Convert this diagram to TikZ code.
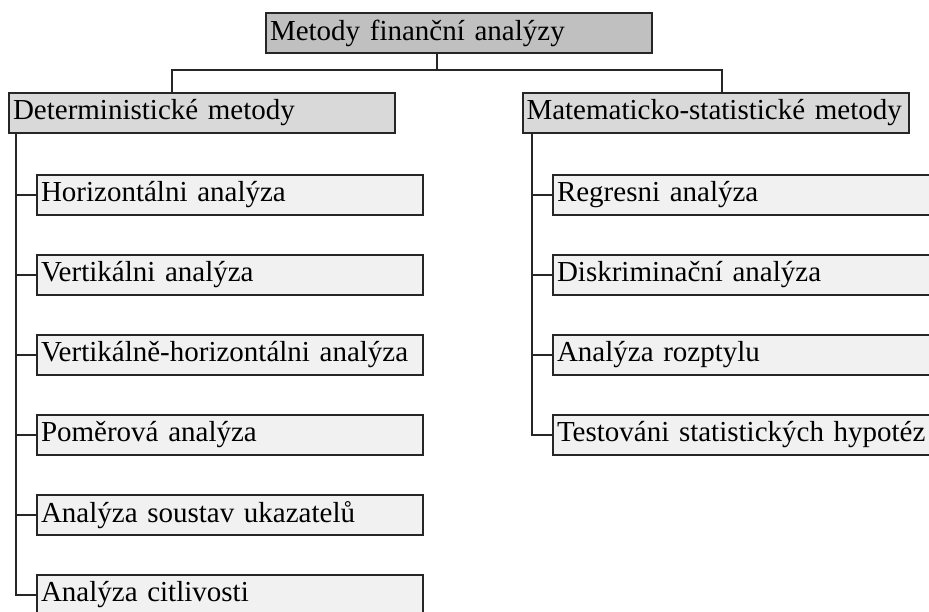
\documentclass[tikz,border=0pt]{standalone}
\usepackage{fontspec}
\setmainfont{Liberation Serif}
\usetikzlibrary{positioning}
\definecolor{rootgray}{RGB}{192,192,192}
\definecolor{groupgray}{RGB}{217,217,217}
\definecolor{leafgray}{RGB}{241,241,241}
\begin{document}
\begin{tikzpicture}[
            x=1pt,y=1pt,
            node distance=80pt,on grid,
            box/.style={rectangle,draw=black!85,line width=2pt,minimum height=40pt,text width=378pt,inner xsep=4pt,inner ysep=0pt,align=left,font=\fontsize{29}{33}\selectfont},
            rootbox/.style={box,fill=rootgray},
            groupbox/.style={box,fill=groupgray},
            leafbox/.style={box,fill=leafgray},
            link/.style={line width=2pt,draw=black!85}
        ]
            \clip (0,0) rectangle (929,-611);

            \node[rootbox] (metody) at (459,-33) {Metody finanční analýzy};
            \node[groupbox] (determ) at (202,-113) {Deterministické metody};
            \node[groupbox] (matstat) at (715.5,-113) {Matematicko-statistické metody};

            \node[leafbox] (horiz) at (230,-195) {Horizontálni analýza};
            \node[leafbox,below=of horiz] (vert) {Vertikálni analýza};
            \node[leafbox,below=of vert] (verthoriz) {Vertikálně-horizontálni analýza};
            \node[leafbox,below=of verthoriz] (pomer) {Poměrová analýza};
            \node[leafbox,below=of pomer] (soustav) {Analýza soustav ukazatelů};
            \node[leafbox,below=of soustav] (citliv) {Analýza citlivosti};

            \node[leafbox] (regres) at (746,-195) {Regresni analýza};
            \node[leafbox,below=of regres] (diskrim) {Diskriminační analýza};
            \node[leafbox,below=of diskrim] (rozptyl) {Analýza rozptylu};
            \node[leafbox,below=of rozptyl] (hypotez) {Testováni statistických hypotéz};

            \coordinate (split) at (437,-70);
            \draw[link] ([xshift=-22pt]metody.south) -- (split);
            \draw[link] ([xshift=-30pt]determ.north) |- (split) -| ([xshift=6.5pt]matstat.north);

            \draw[link] ([xshift=8pt]determ.south west) |- (horiz.west);
            \draw[link] ([xshift=8pt]determ.south west) |- (vert.west);
            \draw[link] ([xshift=8pt]determ.south west) |- (verthoriz.west);
            \draw[link] ([xshift=8pt]determ.south west) |- (pomer.west);
            \draw[link] ([xshift=8pt]determ.south west) |- (soustav.west);
            \draw[link] ([xshift=8pt]determ.south west) |- (citliv.west);

            \draw[link] ([xshift=10pt]matstat.south west) |- (regres.west);
            \draw[link] ([xshift=10pt]matstat.south west) |- (diskrim.west);
            \draw[link] ([xshift=10pt]matstat.south west) |- (rozptyl.west);
            \draw[link] ([xshift=10pt]matstat.south west) |- (hypotez.west);
        \end{tikzpicture}
\end{document}
